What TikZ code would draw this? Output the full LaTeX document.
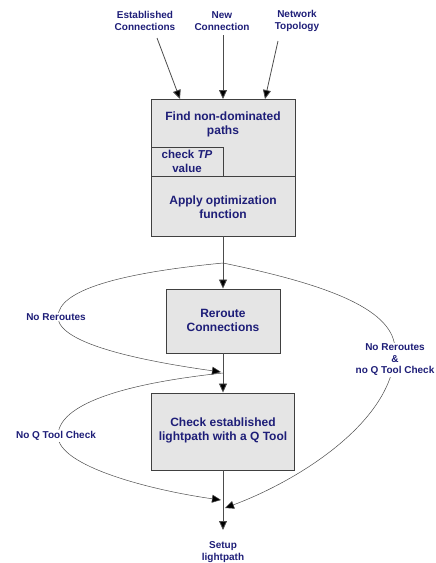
\documentclass[tikz,border=0pt]{standalone}
\usepackage{fontspec}
\setmainfont{Liberation Sans}
\usetikzlibrary{arrows.meta}
\definecolor{lblue}{RGB}{30,30,120}
\tikzset{
	box/.style={draw=black!75,fill=black!10,line width=0.9pt},
	lbl/.style={text=lblue,font=\bfseries\fontsize{10}{11.5}\selectfont,align=center},
	boxtxt/.style={text=lblue,font=\bfseries\fontsize{12}{14}\selectfont,align=center},
	flow/.style={draw=black!70,line width=0.8pt,-{Triangle[width=8pt,length=9pt,fill=black]}},
	bendflow/.style={draw=black!70,line width=0.5pt,-{Triangle[width=8pt,length=9pt,fill=black]}}
}
\begin{document}
\begin{tikzpicture}[x=1pt,y=-1pt]
				\useasboundingbox (0,0) rectangle (436,563);
				% boxes
				\node[box,minimum width=144pt,minimum height=137pt] (find) at (223,167.5) {};
				\draw[line width=0.9pt,black!75] (151,176) to (295,176);
				\draw[box] (151,147) rectangle (223,176);
				\node[box,minimum width=114pt,minimum height=64pt] (reroute) at (223,321) {};
				\node[box,minimum width=143pt,minimum height=77pt] (check) at (223,431.5) {};
				\node[boxtxt] (findtxt) at (223,124) {Find non-dominated\\paths};
				\node[boxtxt,font=\bfseries\fontsize{11.5}{14}\selectfont] (tp) at (187,161.5) {check \textit{TP}\\value};
				\node[boxtxt] (applytxt) at (223,207) {Apply optimization\\function};
				\node[boxtxt] (reroutetxt) at (223,320.5) {Reroute\\Connections};
				\node[boxtxt] (checktxt) at (223,430.5) {Check established\\lightpath with a Q Tool};
				% inputs and output
				\node[lbl] (est) at (145,21) {Established\\Connections};
				\node[lbl] (new) at (222,21) {New\\Connection};
				\node[lbl] (topo) at (297,21) {Network\\Topology};
				\node[lbl] (setup) at (223,552) {Setup\\lightpath};
				\coordinate (inA) at (180,99);
				\coordinate (inB) at (223,99);
				\coordinate (inC) at (265,99);
				\coordinate (br) at (223,263);
				\coordinate (jn) at (223,373);
				\coordinate (out) at (223,530);
				\draw[flow] (157,38) to (inA);
				\draw[flow] (223,35) to (inB);
				\draw[flow] (278,41) to (inC);
				\draw[flow,-] (find.south) to (br);
				\draw[flow] (br) to (reroute.north);
				\draw[flow,-] (reroute.south) to (jn);
				\draw[flow] (jn) to (check.north);
				\draw[flow] (check.south) to (out);
				% bypasses
				\draw[bendflow] (br) .. controls (120,273) and (58,290) .. (58,317) .. controls (58,345) and (150,362) .. (221,372);
				\draw[bendflow] (jn) .. controls (120,384) and (58,405) .. (58,436) .. controls (58,466) and (150,490) .. (221,500);
				\draw[bendflow] (br) .. controls (330,285) and (395,310) .. (395,350) .. controls (395,420) and (300,480) .. (225,508);
				\node[lbl,fill=white,inner sep=1pt] (norr) at (56,317) {No Reroutes};
				\node[lbl,fill=white,inner sep=1pt] (noq) at (56,436) {No Q Tool Check};
				\node[lbl,fill=white,inner sep=1pt] (noboth) at (395,360) {No Reroutes\\\&\\no Q Tool Check};
			\end{tikzpicture}
\end{document}
